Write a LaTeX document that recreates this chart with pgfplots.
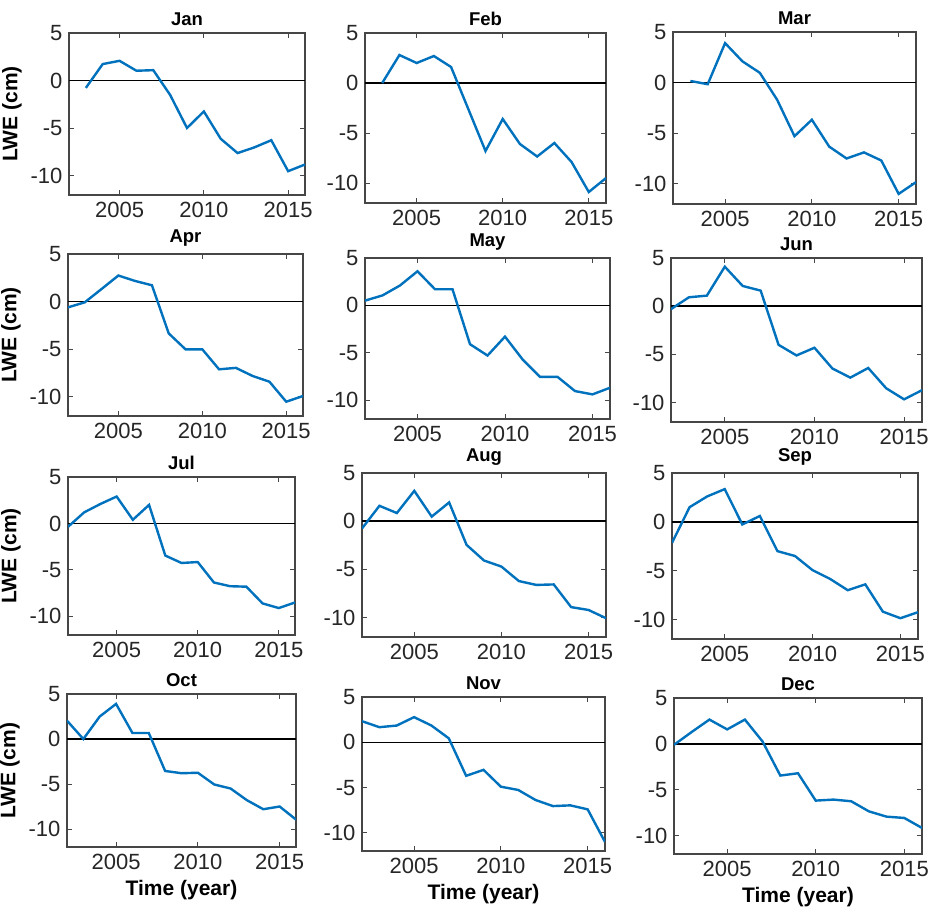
\documentclass[border=0pt]{standalone}
\usepackage{pgfplots}
\usepackage{pgfplotstable}
\pgfplotsset{compat=1.18}
\usepackage{fontspec}
\setmainfont{Liberation Sans}

\definecolor{lweblue}{RGB}{0,114,189}
\definecolor{boxgray}{RGB}{70,70,70}
\definecolor{ticktext}{RGB}{38,38,38}

% Monthly LWE anomalies (cm), one column per month
\pgfplotstableread{
year Jan Feb Mar Apr May Jun Jul Aug Sep Oct Nov Dec
2002 nan nan nan -0.60 0.50 -0.30 -0.36 -0.75 -2.15 2.04 2.33 -0.10
2003 -0.76 0.00 0.16 -0.07 1.05 0.93 1.20 1.60 1.50 0.00 1.67 1.30
2004 1.74 2.80 -0.16 1.33 2.10 1.10 2.10 0.85 2.60 2.50 1.85 2.65
2005 2.08 2.00 3.90 2.74 3.60 4.10 2.90 3.15 3.35 3.90 2.78 1.58
2006 1.04 2.70 2.10 2.17 1.70 2.10 0.40 0.48 -0.27 0.67 1.85 2.65
2007 1.10 1.60 0.97 1.72 1.70 1.62 2.00 1.95 0.60 0.67 0.44 0.26
2008 -1.50 -2.60 -1.70 -3.33 -4.10 -4.00 -3.45 -2.45 -3.00 -3.55 -3.70 -3.45
2009 -4.97 -6.80 -5.30 -5.00 -5.30 -5.10 -4.25 -4.07 -3.50 -3.80 -3.04 -3.20
2010 -3.23 -3.60 -3.67 -5.00 -3.30 -4.30 -4.15 -4.70 -4.95 -3.75 -4.90 -6.18
2011 -6.10 -6.10 -6.33 -7.10 -5.70 -6.45 -6.35 -6.20 -5.85 -5.05 -5.26 -6.07
2012 -7.60 -7.35 -7.50 -6.95 -7.55 -7.40 -6.75 -6.60 -7.00 -5.50 -6.37 -6.25
2013 -7.00 -6.00 -6.90 -7.80 -7.55 -6.40 -6.80 -6.55 -6.40 -6.80 -7.04 -7.35
2014 -6.25 -7.90 -7.70 -8.40 -9.05 -8.50 -8.60 -8.90 -9.20 -7.80 -6.96 -7.93
2015 -9.50 -10.90 -11.00 -10.50 -9.40 -9.65 -9.10 -9.20 -9.87 -7.50 -7.40 -8.07
2016 -8.80 -9.50 -9.84 -9.90 -8.70 -8.70 -8.50 -10.05 -9.25 -8.95 -11.00 -9.16
}\lwe

\pgfplotsset{
  lwepanel/.style={
    scale only axis,
    anchor=north west,
    xmin=2002, xmax=2016, ymin=-12, ymax=5,
    xtick={2005,2010,2015}, ytick={-10,-5,0,5},
    tick align=inside,
    major tick length=5pt,
    tick style={boxgray, line width=1pt},
    axis line style={boxgray, line width=1.4pt},
    /pgf/number format/1000 sep={},
    /pgf/number format/assume math mode=true,
    tick label style={font=\fontsize{22}{25}\selectfont, text=ticktext},
    xticklabel style={yshift=-4pt},
    yticklabel style={xshift=-3pt},
    title style={font=\fontsize{18.5}{21}\selectfont\bfseries, yshift=-2pt},
    label style={font=\fontsize{21}{24}\selectfont\bfseries},
    xlabel style={yshift=-3pt},
    ylabel style={yshift=2pt},
    unbounded coords=discard,
  },
  withy/.style={ylabel={LWE (cm)}},
  withx/.style={xlabel={Time (year)}},
}

% left, top, width, height, month, extra options
\newcommand{\panel}[6]{%
  \begin{axis}[lwepanel, at={(#1pt,-#2pt)}, width=#3pt, height=#4pt, title={#5}, #6]
    \addplot[black, line width=1.5pt] coordinates {(2002,0) (2016,0)};
    \addplot[lweblue, line width=2.4pt] table[x=year, y=#5] {\lwe};
  \end{axis}}

\begin{document}
\begin{tikzpicture}
\path[use as bounding box] (0,0) rectangle (933pt,-911pt);
\panel{69}{33}{236}{162}{Jan}{withy}
\panel{365}{33}{241}{170}{Feb}{}
\panel{673}{32}{243}{172}{Mar}{}
\panel{68}{254}{235}{162}{Apr}{withy}
\panel{365}{258}{245}{161}{May}{}
\panel{671}{258}{251}{164}{Jun}{}
\panel{68}{477}{227}{158}{Jul}{withy}
\panel{362}{473}{244}{164}{Aug}{}
\panel{672}{473}{246}{166}{Sep}{}
\panel{67}{694}{229}{153}{Oct}{withy,withx}
\panel{362}{697}{243}{154}{Nov}{withx}
\panel{674}{698}{248}{156}{Dec}{withx}
\end{tikzpicture}
\end{document}
